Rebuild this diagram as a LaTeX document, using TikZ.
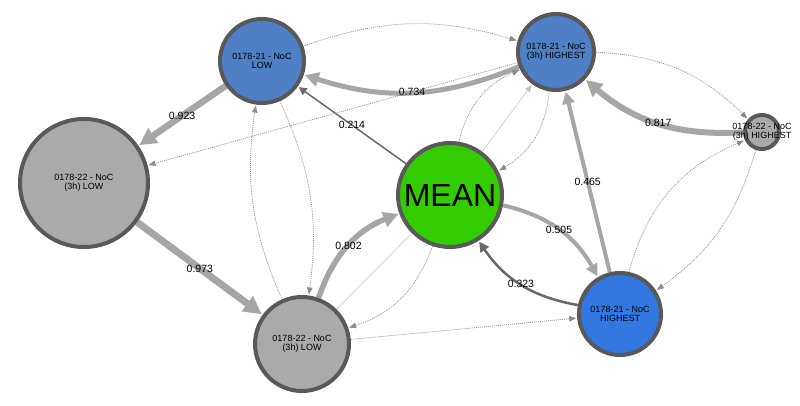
\documentclass[tikz,border=0pt]{standalone}
\usepackage{fontspec}
\setmainfont{Liberation Sans}
\usetikzlibrary{arrows.meta, backgrounds}

\definecolor{nodeline}{RGB}{89,89,89}
\definecolor{steelblue}{RGB}{79,127,196}
\definecolor{brightblue}{RGB}{51,120,224}
\definecolor{meangreen}{RGB}{51,204,0}
\definecolor{nodegrey}{RGB}{170,170,170}
\definecolor{edgegrey}{RGB}{166,166,166}
\definecolor{darkedge}{RGB}{105,105,105}
\definecolor{dotedge}{RGB}{140,140,140}
\definecolor{hairedge}{RGB}{190,190,190}

\begin{document}
\begin{tikzpicture}[
    x=1pt, y=1pt,
    shorten >=1pt,
    every node/.style={font=\fontsize{10.5}{12}\selectfont},
    ball/.style={circle, draw=nodeline, line width=4pt, minimum size=#1, inner sep=0pt, align=center, font=\fontsize{9}{9.5}\selectfont},
    heavy/.style={draw=edgegrey, line width=#1, -{Triangle[length=4pt 2, width=4pt 2]}},
    dark/.style={draw=darkedge, line width=#1, -{Triangle[length=5pt 2, width=5pt 2]}},
    faint/.style={draw=dotedge, line width=0.7pt, dash pattern=on 1pt off 1pt, -{Triangle[length=7pt, width=5.5pt]}},
    hair/.style={draw=hairedge, line width=0.5pt, -{Triangle[length=7pt, width=5.5pt]}}
]
    \useasboundingbox (0,0) rectangle (800,-406);

    % Nodes
    \node[ball=84pt, fill=steelblue] (low21) at (262,-61) {0178-21 - NoC\\LOW};
    \node[ball=76pt, fill=steelblue] (high21h) at (556,-52) {0178-21 - NoC\\(3h) HIGHEST};
    \node[ball=128pt, fill=nodegrey] (low22h) at (84,-183) {0178-22 - NoC\\(3h) LOW};
    \node[ball=104pt, fill=meangreen, font=\fontsize{32}{36}\selectfont] (mean) at (450,-195) {MEAN};
    \node[ball=34pt, fill=nodegrey,
          label={[font=\fontsize{9}{9.5}\selectfont, align=center]center:0178-22 - NoC\\(3h) HIGHEST}] (high22h) at (762,-132) {};
    \node[ball=82pt, fill=brightblue] (high21) at (620,-314) {0178-21 - NoC\\HIGHEST};
    \node[ball=94pt, fill=nodegrey] (low22hb) at (302,-344) {0178-22 - NoC\\(3h) LOW};

    \begin{scope}[on background layer]
    % Weighted links
    \path
        (high21h) edge[heavy=5pt, bend left=20] node {0.734} (low21)
        (low21) edge[heavy=6.5pt] node {0.923} (low22h)
        (low22h) edge[heavy=7pt] node {0.973} (low22hb)
        (low22hb) edge[heavy=5.5pt, bend left=25] node {0.802} (mean)
        (mean) edge[heavy=4pt, bend left=24] node {0.505} (high21)
        (high21) edge[dark=2.5pt, bend left=23] node {0.323} (mean)
        (high21) edge[heavy=4pt] node {0.465} (high21h)
        (high22h) edge[heavy=6pt, bend left=22] node {0.817} (high21h)
        (mean) edge[dark=1.5pt] node {0.214} (low21);
    % Weak links
    \path
        (low21) edge[faint, bend left=18] (high21h)
        (high21h) edge[faint] (low22h)
        (high21h) edge[faint, bend left=21] (high22h)
        (mean) edge[faint, bend left=27] (high21h)
        (mean) edge[hair] (high21h)
        (high21h) edge[faint, bend left=27] (mean)
        (low22hb) edge[faint, bend left=16] (low21)
        (low21) edge[faint, bend left=16] (low22hb)
        (low22hb) edge[hair, -] (mean)
        (mean) edge[faint, bend left=26] (low22hb)
        (low22hb) edge[faint] (high21)
        (high21) edge[faint, bend left=26] (high22h)
        (high22h) edge[faint, bend left=19] (high21);
    \end{scope}
\end{tikzpicture}
\end{document}
